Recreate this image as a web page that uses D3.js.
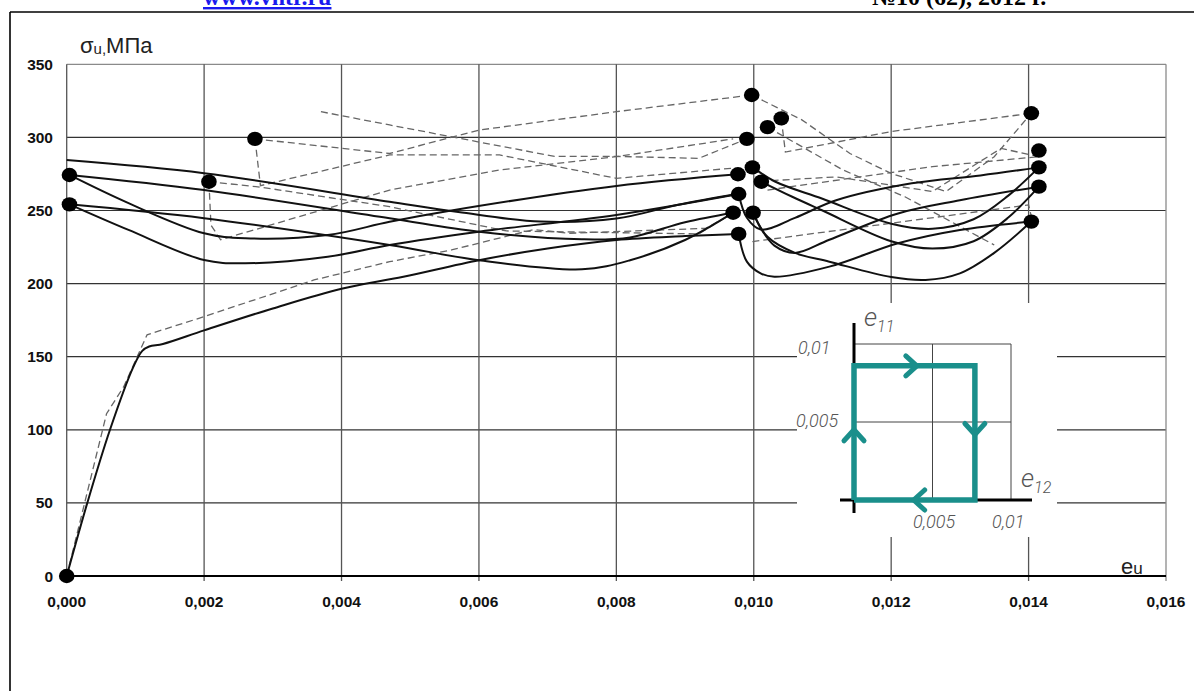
<!DOCTYPE html>
<html><head><meta charset="utf-8">
<script src="https://cdn.jsdelivr.net/npm/d3@7"></script>
<style>
html,body{margin:0;padding:0;background:#fff;}
svg{display:block;}
</style></head>
<body>
<script>
// ---- axis ticks ----
const xTicks = [0, 0.002, 0.004, 0.006, 0.008, 0.010, 0.012, 0.014, 0.016];
const yTicks = [0, 50, 100, 150, 200, 250, 300, 350];

// ---- calculated curves (solid), [e_u, sigma_u MPa] ----
const calcLoading = [[0,0],[0.0003,50],[0.00063,100],[0.00097,143],[0.0011,154],[0.0012,157],[0.0014,158.7],[0.002,168],[0.003,183],[0.004,196.5],[0.0049,204.7],[0.006,216],[0.007,224],[0.008,229.8],[0.009,232.5],[0.00978,234]];
const calcL1 = [[0,284.5],[0.002,275.5],[0.0047,256],[0.0057,249],[0.0069,242.4],[0.008,244.5],[0.0089,254],[0.00977,261.5]];
const calcL2 = [[0.00004,274.3],[0.002,264],[0.0047,244.7],[0.006,235.5],[0.0075,230.3],[0.0082,231.6],[0.009,242],[0.0097,248.5]];
const calcL3 = [[0.00004,274.3],[0.0009,255],[0.002,234.4],[0.0026,231],[0.0038,233.2],[0.0047,242.3],[0.0056,250],[0.008,266.8],[0.00977,274.8]];
const calcL4 = [[0.00004,254.2],[0.002,244.7],[0.0047,226.4],[0.006,216],[0.0075,209.8],[0.0082,216],[0.009,229.8],[0.0097,248.5]];
const calcL5 = [[0.00004,254.2],[0.0009,236.7],[0.002,216.1],[0.0026,213.9],[0.0038,218.4],[0.0047,226.4],[0.006,235.5],[0.008,247],[0.00978,261.3]];
const calcA = [[0.00999,279.5],[0.0103,270],[0.011,258],[0.012,241],[0.0126,237.5],[0.0132,244],[0.0137,260],[0.01415,279.5]];
const calcB = [[0.01011,269.7],[0.01056,259.4],[0.011,250],[0.012,229],[0.0126,224],[0.0132,229],[0.0137,245],[0.01415,266.3]];
const calcC = [[0.00999,248.5],[0.0102,232],[0.0106,221],[0.0111,215],[0.012,204.5],[0.0125,202.5],[0.013,207],[0.0135,221],[0.01404,242.4]];
const calcD = [[0.00978,234],[0.0099,215],[0.0101,207],[0.0103,204.7],[0.0111,211.6],[0.0121,227.6],[0.013,236.7],[0.01404,242.4]];
const calcE = [[0.00999,248.5],[0.0101,238],[0.0103,226],[0.0106,221],[0.0111,230],[0.0121,248],[0.013,257],[0.01415,266.3]];
const calcF = [[0.00978,261.3],[0.0099,245],[0.0101,237],[0.0106,245],[0.0112,257],[0.0123,268.6],[0.0133,274],[0.01415,279.5]];

// ---- experimental curves (dashed) ----
const expLoading = [[0,0],[0.00058,111],[0.00083,129.5],[0.00117,165],[0.002,177.4],[0.0036,202.5],[0.0047,215],[0.0056,223],[0.0068,237],[0.0073,234.4],[0.0093,237.8],[0.0097,248]];
const expP2 = [[0.00274,299],[0.0047,289],[0.006,305],[0.008,317.6],[0.00997,329]];
const expP3 = [[0.00274,299],[0.00282,267],[0.0047,288],[0.0063,288],[0.008,272],[0.0097,279]];
const expP4 = [[0.0037,317.6],[0.0047,308.5],[0.0071,287],[0.008,287],[0.0092,285.7],[0.0099,299]];
const expP5 = [[0.00207,269.7],[0.00282,266],[0.0047,252.6],[0.0064,236],[0.0092,234],[0.0097,248.5]];
const expP6 = [[0.00207,269.7],[0.0021,240],[0.00224,230],[0.0047,264],[0.0063,277.7],[0.008,286.8],[0.0097,299]];
const expR1 = [[0.00997,329],[0.0107,312],[0.0114,289],[0.012,275.4],[0.0128,263],[0.0135,286.8],[0.01404,316.5]];
const expR2 = [[0.0104,313],[0.01046,290],[0.012,304],[0.01404,316.5]];
const expR3 = [[0.0102,307],[0.0113,277.7],[0.0122,259.4],[0.0135,226.4]];
const expR4 = [[0.0101,270],[0.0112,273],[0.0126,263],[0.0136,292.5],[0.01415,286.8]];
const expR5 = [[0.0102,264],[0.0126,280],[0.01415,286.8]];
const expR6 = [[0.00998,228.7],[0.014,253.8],[0.01404,246]];

// ---- markers ----
const markers = [[0,0],[0.00004,274.3],[0.00004,254.2],[0.00207,269.7],[0.00274,299],
  [0.00997,329],[0.0104,313],[0.0102,307],[0.0099,299],[0.00998,279.5],[0.00977,274.8],[0.01011,269.7],
  [0.00978,261.3],[0.0097,248.5],[0.00999,248.5],[0.00978,234],
  [0.01404,316.5],[0.01415,291],[0.01415,279.5],[0.01415,266.3],[0.01404,242.4]];

const W = 1194, H = 691;
const svg = d3.select("body").append("svg").attr("width", W).attr("height", H);

const x = d3.scaleLinear().domain([0, 0.016]).range([66.7, 1166]);
const y = d3.scaleLinear().domain([0, 350]).range([576, 64.3]);

// page header
svg.append("text").attr("x", 203).attr("y", 5)
  .attr("font-family", "Liberation Serif").attr("font-weight", "bold").attr("font-size", 24)
  .attr("fill", "#1a1aee").attr("text-decoration", "underline").text("www.vntr.ru");
svg.append("text").attr("x", 872).attr("y", 5)
  .attr("font-family", "Liberation Serif").attr("font-weight", "bold").attr("font-size", 24)
  .attr("fill", "#000").text("№10 (62), 2012 г.");

// frame
svg.append("line").attr("x1", 10).attr("x2", W).attr("y1", 12).attr("y2", 12).attr("stroke", "#000").attr("stroke-width", 1.6);
svg.append("line").attr("x1", 10).attr("x2", 10).attr("y1", 12).attr("y2", H).attr("stroke", "#000").attr("stroke-width", 1.6);

// grid
const g = svg.append("g");
g.selectAll(".hg").data(yTicks.filter(d => d > 0)).enter().append("line")
  .attr("x1", x(0)).attr("x2", x(0.016)).attr("y1", d => y(d)).attr("y2", d => y(d))
  .attr("stroke", d => d === 350 ? "#8a8a8a" : "#333").attr("stroke-width", 1.2);
g.selectAll(".vg").data(xTicks).enter().append("line")
  .attr("x1", d => x(d)).attr("x2", d => x(d)).attr("y1", y(350)).attr("y2", y(0) + 5)
  .attr("stroke", d => d === 0.016 ? "#8a8a8a" : "#555").attr("stroke-width", 1.3);
g.append("line").attr("x1", x(0)).attr("x2", x(0.016)).attr("y1", y(0)).attr("y2", y(0))
  .attr("stroke", "#000").attr("stroke-width", 2);

// tick labels
const fmtX = d => d3.format(".3f")(d).replace(".", ",");
svg.append("g").selectAll("text").data(yTicks).enter().append("text")
  .attr("x", 53).attr("y", d => y(d)).attr("dy", "0.36em").attr("text-anchor", "end")
  .attr("font-family", "Liberation Sans, Arial").attr("font-weight", "bold").attr("font-size", 15.5)
  .attr("fill", "#111").text(d => d);
svg.append("g").selectAll("text").data(xTicks).enter().append("text")
  .attr("x", d => x(d)).attr("y", 607).attr("text-anchor", "middle")
  .attr("font-family", "Liberation Sans, Arial").attr("font-weight", "bold").attr("font-size", 15.5)
  .attr("fill", "#111").text(fmtX);

// axis titles
const yt = svg.append("text").attr("x", 80).attr("y", 53)
  .attr("font-family", "Liberation Sans, Arial").attr("font-size", 22).attr("fill", "#222");
yt.append("tspan").text("σ");
yt.append("tspan").attr("font-size", 15).attr("dy", 1).text("u,");
yt.append("tspan").attr("dy", -1).text("МПа");
const xt = svg.append("text").attr("x", 1121).attr("y", 574)
  .attr("font-family", "Liberation Sans, Arial").attr("font-size", 22).attr("fill", "#222");
xt.append("tspan").text("e");
xt.append("tspan").attr("font-size", 17).text("u");

// curves
const line = d3.line().x(d => x(d[0])).y(d => y(d[1])).curve(d3.curveCatmullRom.alpha(0.5));
const poly = d3.line().x(d => x(d[0])).y(d => y(d[1]));
const dashed = [expLoading, expP2, expP3, expP4, expP5, expP6, expR1, expR2, expR3, expR4, expR5, expR6];
const solid = [calcLoading, calcL1, calcL2, calcL3, calcL4, calcL5, calcA, calcB, calcC, calcD, calcE, calcF];
svg.append("g").selectAll("path").data(dashed).enter().append("path")
  .attr("d", poly).attr("fill", "none").attr("stroke", "#666").attr("stroke-width", 1.3)
  .attr("stroke-dasharray", "7,4");
svg.append("g").selectAll("path").data(solid).enter().append("path")
  .attr("d", line).attr("fill", "none").attr("stroke", "#111").attr("stroke-width", 2);
svg.append("g").selectAll("ellipse").data(markers).enter().append("ellipse")
  .attr("cx", d => x(d[0])).attr("cy", d => y(d[1])).attr("rx", 7.8).attr("ry", 7.2).attr("fill", "#000");

// inset: strain trajectory in e12–e11 plane
const inset = svg.append("g");
inset.append("rect").attr("x", 797).attr("y", 303).attr("width", 260).attr("height", 234).attr("fill", "#fff");
const ix = d3.scaleLinear().domain([0, 0.01]).range([854, 1011]);
const iy = d3.scaleLinear().domain([0, 0.01]).range([500, 344]);
const iGrid = [0.005, 0.01];
inset.selectAll(".ih").data(iGrid).enter().append("line")
  .attr("x1", ix(0)).attr("x2", ix(0.01)).attr("y1", d => iy(d)).attr("y2", d => iy(d))
  .attr("stroke", "#444").attr("stroke-width", 1);
inset.selectAll(".iv").data(iGrid).enter().append("line")
  .attr("x1", d => ix(d)).attr("x2", d => ix(d)).attr("y1", iy(0.01)).attr("y2", iy(0))
  .attr("stroke", "#444").attr("stroke-width", 1);
inset.append("line").attr("x1", ix(0)).attr("x2", ix(0)).attr("y1", 323).attr("y2", 513).attr("stroke", "#000").attr("stroke-width", 3);
inset.append("line").attr("x1", 840).attr("x2", 1032).attr("y1", iy(0)).attr("y2", iy(0)).attr("stroke", "#000").attr("stroke-width", 3);

const pathE = [[0, 0], [0, 0.0086], [0.0077, 0.0086], [0.0077, 0], [0, 0]];
const teal = "#1a8f8b";
inset.append("path").attr("d", d3.line().x(d => ix(d[0])).y(d => iy(d[1]))(pathE))
  .attr("fill", "none").attr("stroke", teal).attr("stroke-width", 5.5).attr("stroke-linejoin", "miter");
// direction chevrons: [tip e12, tip e11, angle]
const arrows = [[0.0040, 0.0086, 0], [0.0077, 0.0042, 90], [0.0038, 0, 180], [0, 0.0045, 270]];
inset.selectAll(".arr").data(arrows).enter().append("path")
  .attr("transform", d => `translate(${ix(d[0])},${iy(d[1])}) rotate(${d[2]})`)
  .attr("d", "M-11,-10 L0,0 L-11,10").attr("fill", "none").attr("stroke", teal)
  .attr("stroke-width", 5).attr("stroke-linecap", "round").attr("stroke-linejoin", "round");

const lab = (xx, yy, t, anchor) => inset.append("text").attr("x", xx).attr("y", yy)
  .attr("text-anchor", anchor || "start").attr("font-family", "Roboto, Liberation Sans")
  .attr("font-style", "italic").attr("font-weight", 300).attr("font-size", 18).attr("fill", "#555").text(t);
lab(798, 354, "0,01");
lab(796, 427, "0,005");
lab(913, 528, "0,005");
lab(992, 528, "0,01");
const e11 = inset.append("text").attr("x", 864).attr("y", 326).attr("font-family", "Roboto, Liberation Sans")
  .attr("font-style", "italic").attr("font-weight", 300).attr("font-size", 26).attr("fill", "#555");
e11.append("tspan").text("e");
e11.append("tspan").attr("font-size", 16).attr("dy", 6).text("11");
const e12 = inset.append("text").attr("x", 1021).attr("y", 487).attr("font-family", "Roboto, Liberation Sans")
  .attr("font-style", "italic").attr("font-weight", 300).attr("font-size", 26).attr("fill", "#555");
e12.append("tspan").text("e");
e12.append("tspan").attr("font-size", 16).attr("dy", 6).text("12");
</script>
</body></html>
